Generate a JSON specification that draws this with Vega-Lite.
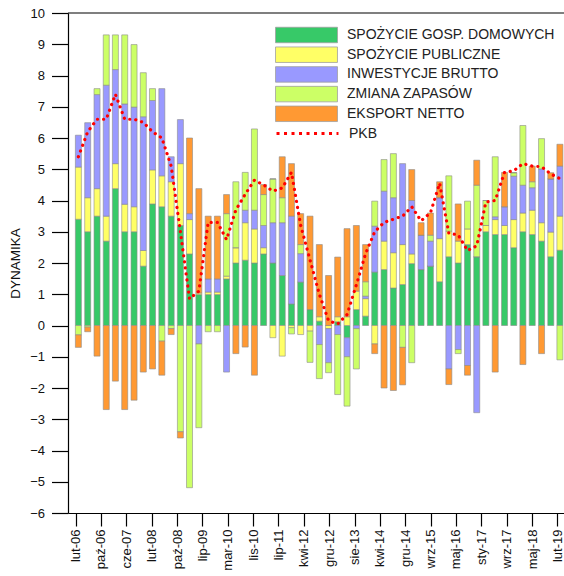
{
  "$schema": "https://vega.github.io/schema/vega-lite/v6.json",
  "width": 496,
  "height": 500,
  "autosize": {"type": "none"},
  "padding": {"left": 68, "top": 13, "right": 0, "bottom": 63},
  "data": {"values": [
    {"q":"2006-03-01","c1":3.4,"c2":1.67,"c3":1.02,"c4":-0.3,"c5":-0.4,"pkb":5.4},
    {"q":"2006-06-01","c1":3.0,"c2":1.09,"c3":2.4,"c4":-0.05,"c5":-0.15,"pkb":6.2},
    {"q":"2006-09-01","c1":3.5,"c2":0.88,"c3":3.01,"c4":0.19,"c5":-0.98,"pkb":6.6},
    {"q":"2006-12-01","c1":2.7,"c2":0.8,"c3":4.19,"c4":1.61,"c5":-2.69,"pkb":6.6},
    {"q":"2007-03-01","c1":4.38,"c2":0.8,"c3":3.01,"c4":1.11,"c5":-1.78,"pkb":7.4},
    {"q":"2007-06-01","c1":3.0,"c2":0.88,"c3":3.21,"c4":2.21,"c5":-2.69,"pkb":6.6},
    {"q":"2007-09-01","c1":3.0,"c2":0.8,"c3":3.19,"c4":2.0,"c5":-2.39,"pkb":6.6},
    {"q":"2007-12-01","c1":1.9,"c2":0.5,"c3":4.28,"c4":1.41,"c5":-1.49,"pkb":6.5},
    {"q":"2008-03-01","c1":3.89,"c2":1.09,"c3":2.22,"c4":0.38,"c5":-1.39,"pkb":6.2},
    {"q":"2008-06-01","c1":3.8,"c2":0.99,"c3":2.79,"c4":-0.5,"c5":-1.09,"pkb":6.0},
    {"q":"2008-09-01","c1":3.5,"c2":1.1,"c3":0.8,"c4":-0.1,"c5":-0.19,"pkb":5.1},
    {"q":"2008-12-01","c1":3.2,"c2":1.98,"c3":1.41,"c4":-3.4,"c5":-0.2,"pkb":3.0},
    {"q":"2009-03-01","c1":2.29,"c2":1.1,"c3":0.19,"c4":-5.19,"c5":2.42,"pkb":0.85},
    {"q":"2009-06-01","c1":0.99,"c2":0.05,"c3":-0.59,"c4":-2.68,"c5":3.34,"pkb":1.1},
    {"q":"2009-09-01","c1":0.99,"c2":0.08,"c3":0.42,"c4":-0.2,"c5":2.01,"pkb":3.3},
    {"q":"2009-12-01","c1":0.99,"c2":0.08,"c3":0.42,"c4":-0.2,"c5":2.01,"pkb":3.3},
    {"q":"2010-03-01","c1":1.49,"c2":0.09,"c3":-1.49,"c4":2.0,"c5":0.61,"pkb":2.75},
    {"q":"2010-06-01","c1":2.0,"c2":0.49,"c3":0,"c4":2.11,"c5":-0.9,"pkb":3.7},
    {"q":"2010-09-01","c1":2.09,"c2":1.2,"c3":0.4,"c4":1.21,"c5":-0.69,"pkb":4.2},
    {"q":"2010-12-01","c1":2.0,"c2":1.09,"c3":0.6,"c4":2.6,"c5":-1.59,"pkb":4.65},
    {"q":"2011-03-01","c1":2.29,"c2":0.2,"c3":0.71,"c4":0.99,"c5":0.32,"pkb":4.5},
    {"q":"2011-06-01","c1":2.0,"c2":-0.39,"c3":1.29,"c4":1.4,"c5":0,"pkb":4.3},
    {"q":"2011-09-01","c1":1.6,"c2":-0.98,"c3":1.69,"c4":0.8,"c5":1.31,"pkb":4.4},
    {"q":"2011-12-01","c1":0.69,"c2":-0.07,"c3":2.81,"c4":-0.2,"c5":1.68,"pkb":4.9},
    {"q":"2012-03-01","c1":1.39,"c2":-0.29,"c3":0.91,"c4":0.29,"c5":0.99,"pkb":3.2},
    {"q":"2012-06-01","c1":0.51,"c2":-0.18,"c3":0,"c4":-1.0,"c5":2.99,"pkb":2.1},
    {"q":"2012-09-01","c1":0.14,"c2":0.14,"c3":-0.61,"c4":-1.09,"c5":2.31,"pkb":1.0},
    {"q":"2012-12-01","c1":0,"c2":-0.1,"c3":-1.09,"c4":-0.32,"c5":1.6,"pkb":0.15},
    {"q":"2013-03-01","c1":0.12,"c2":0.16,"c3":-0.29,"c4":-1.92,"c5":1.91,"pkb":0.05},
    {"q":"2013-06-01","c1":-0.39,"c2":0.28,"c3":-0.61,"c4":-1.58,"c5":2.82,"pkb":0.35},
    {"q":"2013-09-01","c1":0.51,"c2":0.59,"c3":-0.1,"c4":-1.29,"c5":2.1,"pkb":1.3},
    {"q":"2013-12-01","c1":0.3,"c2":0.56,"c3":0.08,"c4":0.46,"c5":1.19,"pkb":2.3},
    {"q":"2014-03-01","c1":1.71,"c2":-0.59,"c3":1.47,"c4":0.8,"c5":-0.31,"pkb":3.0},
    {"q":"2014-06-01","c1":1.79,"c2":0.91,"c3":1.6,"c4":1.01,"c5":-2.0,"pkb":3.3},
    {"q":"2014-09-01","c1":1.2,"c2":1.13,"c3":1.76,"c4":1.41,"c5":-2.08,"pkb":3.4},
    {"q":"2014-12-01","c1":1.31,"c2":1.28,"c3":2.59,"c4":-0.7,"c5":-1.2,"pkb":3.5},
    {"q":"2015-03-01","c1":1.98,"c2":0.31,"c3":1.71,"c4":-1.19,"c5":0.99,"pkb":3.8},
    {"q":"2015-06-01","c1":1.79,"c2":0,"c3":1.1,"c4":0,"c5":0.4,"pkb":3.35},
    {"q":"2015-09-01","c1":1.9,"c2":0,"c3":0.8,"c4":0.19,"c5":0.71,"pkb":3.6},
    {"q":"2015-12-01","c1":1.4,"c2":1.38,"c3":1.31,"c4":0,"c5":0.51,"pkb":4.55},
    {"q":"2016-03-01","c1":2.2,"c2":0.82,"c3":-1.39,"c4":1.77,"c5":-0.5,"pkb":2.95},
    {"q":"2016-06-01","c1":2.0,"c2":0.7,"c3":-0.77,"c4":-0.13,"c5":1.19,"pkb":2.9},
    {"q":"2016-09-01","c1":2.59,"c2":0.5,"c3":-1.28,"c4":0.89,"c5":-0.31,"pkb":2.4},
    {"q":"2016-12-01","c1":2.2,"c2":0,"c3":-2.79,"c4":2.29,"c5":0.8,"pkb":2.55},
    {"q":"2017-03-01","c1":3.0,"c2":0.2,"c3":0,"c4":0.8,"c5":0,"pkb":3.95},
    {"q":"2017-06-01","c1":2.91,"c2":0.48,"c3":0.09,"c4":1.92,"c5":-1.49,"pkb":4.0},
    {"q":"2017-09-01","c1":2.91,"c2":0.29,"c3":0.6,"c4":0,"c5":1.1,"pkb":4.9},
    {"q":"2017-12-01","c1":2.49,"c2":0.9,"c3":1.39,"c4":0.11,"c5":0,"pkb":4.95},
    {"q":"2018-03-01","c1":3.0,"c2":0.6,"c3":0.89,"c4":1.91,"c5":-1.25,"pkb":5.18},
    {"q":"2018-06-01","c1":2.91,"c2":0.78,"c3":0.72,"c4":0.19,"c5":0.5,"pkb":5.1},
    {"q":"2018-09-01","c1":2.7,"c2":0.59,"c3":1.72,"c4":0.97,"c5":-0.9,"pkb":5.08},
    {"q":"2018-12-01","c1":2.2,"c2":0.79,"c3":1.7,"c4":0,"c5":0.2,"pkb":4.85},
    {"q":"2019-03-01","c1":2.41,"c2":1.09,"c3":1.6,"c4":-1.1,"c5":0.7,"pkb":4.7}
  ]},
  "layer": [
    {
      "transform": [{"fold": ["c1","c2","c3","c4","c5"], "as": ["key","value"]}],
      "mark": {"type": "bar", "size": 6, "stroke": "#8c8c8c", "strokeWidth": 0.6, "clip": true},
      "encoding": {
        "x": {
          "field": "q", "type": "temporal",
          "scale": {"domain": [{"year":2006,"month":1,"date":7},{"year":2019,"month":2,"date":20}]},
          "axis": {
            "title": null,
            "values": [
              {"year":2006,"month":2,"date":2},{"year":2006,"month":10,"date":10},{"year":2007,"month":6,"date":17},
              {"year":2008,"month":2,"date":22},{"year":2008,"month":10,"date":29},{"year":2009,"month":7,"date":6},
              {"year":2010,"month":3,"date":13},{"year":2010,"month":11,"date":18},{"year":2011,"month":7,"date":26},
              {"year":2012,"month":4,"date":1},{"year":2012,"month":12,"date":7},{"year":2013,"month":8,"date":14},
              {"year":2014,"month":4,"date":21},{"year":2014,"month":12,"date":27},{"year":2015,"month":9,"date":3},
              {"year":2016,"month":5,"date":10},{"year":2017,"month":1,"date":15},{"year":2017,"month":9,"date":22},
              {"year":2018,"month":5,"date":30},{"year":2019,"month":2,"date":4}
            ],
            "labelExpr": "['sty','lut','mar','kwi','maj','cze','lip','sie','wrz','paź','lis','gru'][month(datum.value)] + '-' + timeFormat(datum.value, '%y')",
            "labelAngle": -90, "labelAlign": "right", "labelBaseline": "middle",
            "labelFlush": false, "labelOverlap": false, "tickSize": 13, "labelPadding": 3
          }
        },
        "y": {
          "field": "value", "type": "quantitative", "stack": "zero",
          "scale": {"domain": [-6, 10], "nice": false},
          "axis": {
            "title": "DYNAMIKA",
            "values": [-6,-5,-4,-3,-2,-1,0,1,2,3,4,5,6,7,8,9,10],
            "labelOverlap": false, "tickSize": 16.5, "labelPadding": 7,
            "titleX": -53, "titleY": 250, "titleAngle": -90, "titleAlign": "center", "titleBaseline": "middle"
          }
        },
        "color": {
          "field": "key", "type": "nominal",
          "scale": {"domain": ["c1","c2","c3","c4","c5"], "range": ["#37c968","#ffff66","#9999ff","#ccff66","#ff9933"]},
          "legend": {
            "orient": "none", "legendX": 230, "legendY": 13.5, "title": null, "padding": 0,
            "symbolType": "M-4,-1H4V1H-4Z", "symbolSize": 240,
            "symbolStrokeColor": "#a0a0a0", "symbolStrokeWidth": 0.8,
            "labelFont": "Liberation Sans", "labelFontSize": 14, "labelColor": "#222",
            "labelOffset": 32, "rowPadding": 0.7, "labelLimit": 400,
            "labelExpr": "datum.label == 'c1' ? 'SPOŻYCIE GOSP. DOMOWYCH' : datum.label == 'c2' ? 'SPOŻYCIE PUBLICZNE' : datum.label == 'c3' ? 'INWESTYCJE BRUTTO' : datum.label == 'c4' ? 'ZMIANA ZAPASÓW' : 'EKSPORT NETTO'"
          }
        },
        "order": {"field": "key"}
      }
    },
    {
      "mark": {"type": "line", "strokeWidth": 3.2, "strokeCap": "round", "strokeDash": [0.1, 6], "clip": true},
      "encoding": {
        "x": {
          "field": "q", "type": "temporal",
          "axis": {
            "title": null,
            "values": [
              {"year":2006,"month":2,"date":2},{"year":2006,"month":10,"date":10},{"year":2007,"month":6,"date":17},
              {"year":2008,"month":2,"date":22},{"year":2008,"month":10,"date":29},{"year":2009,"month":7,"date":6},
              {"year":2010,"month":3,"date":13},{"year":2010,"month":11,"date":18},{"year":2011,"month":7,"date":26},
              {"year":2012,"month":4,"date":1},{"year":2012,"month":12,"date":7},{"year":2013,"month":8,"date":14},
              {"year":2014,"month":4,"date":21},{"year":2014,"month":12,"date":27},{"year":2015,"month":9,"date":3},
              {"year":2016,"month":5,"date":10},{"year":2017,"month":1,"date":15},{"year":2017,"month":9,"date":22},
              {"year":2018,"month":5,"date":30},{"year":2019,"month":2,"date":4}
            ],
            "labelExpr": "['sty','lut','mar','kwi','maj','cze','lip','sie','wrz','paź','lis','gru'][month(datum.value)] + '-' + timeFormat(datum.value, '%y')",
            "labelAngle": -90, "labelAlign": "right", "labelBaseline": "middle",
            "labelFlush": false, "labelOverlap": false, "tickSize": 13, "labelPadding": 3
          }
        },
        "y": {
          "field": "pkb", "type": "quantitative",
          "axis": {
            "title": "DYNAMIKA",
            "values": [-6,-5,-4,-3,-2,-1,0,1,2,3,4,5,6,7,8,9,10],
            "labelOverlap": false, "tickSize": 16.5, "labelPadding": 7,
            "titleX": -53, "titleY": 250, "titleAngle": -90, "titleAlign": "center", "titleBaseline": "middle"
          }
        },
        "stroke": {
          "datum": "PKB", "type": "nominal",
          "scale": {"range": ["#ff0000"]},
          "legend": {
            "orient": "none", "legendX": 230, "legendY": 111, "title": null, "padding": 0,
            "symbolType": "M-4,0H4", "symbolSize": 240, "symbolStrokeWidth": 3, "symbolDash": [3, 4.5],
            "labelFont": "Liberation Sans", "labelFontSize": 14, "labelColor": "#222", "labelOffset": 32
          }
        }
      }
    },
    {
      "data": {"values": [{}]},
      "mark": {"type": "rule", "color": "#000", "strokeWidth": 1.2},
      "encoding": {
        "y": {
          "datum": 10, "type": "quantitative",
          "axis": {
            "title": "DYNAMIKA",
            "values": [-6,-5,-4,-3,-2,-1,0,1,2,3,4,5,6,7,8,9,10],
            "labelOverlap": false, "tickSize": 16.5, "labelPadding": 7,
            "titleX": -53, "titleY": 250, "titleAngle": -90, "titleAlign": "center", "titleBaseline": "middle"
          }
        }
      }
    }
  ],
  "config": {
    "view": {"stroke": null},
    "font": "Liberation Sans",
    "axis": {
      "grid": false, "labelOverlap": false,
      "domainColor": "#000", "domainWidth": 1.2,
      "tickColor": "#000", "tickWidth": 1.2,
      "labelFont": "Liberation Sans", "labelFontSize": 13, "labelColor": "#111",
      "titleFont": "Liberation Sans", "titleFontSize": 13.5, "titleFontWeight": "normal", "titleColor": "#111"
    }
  }
}
